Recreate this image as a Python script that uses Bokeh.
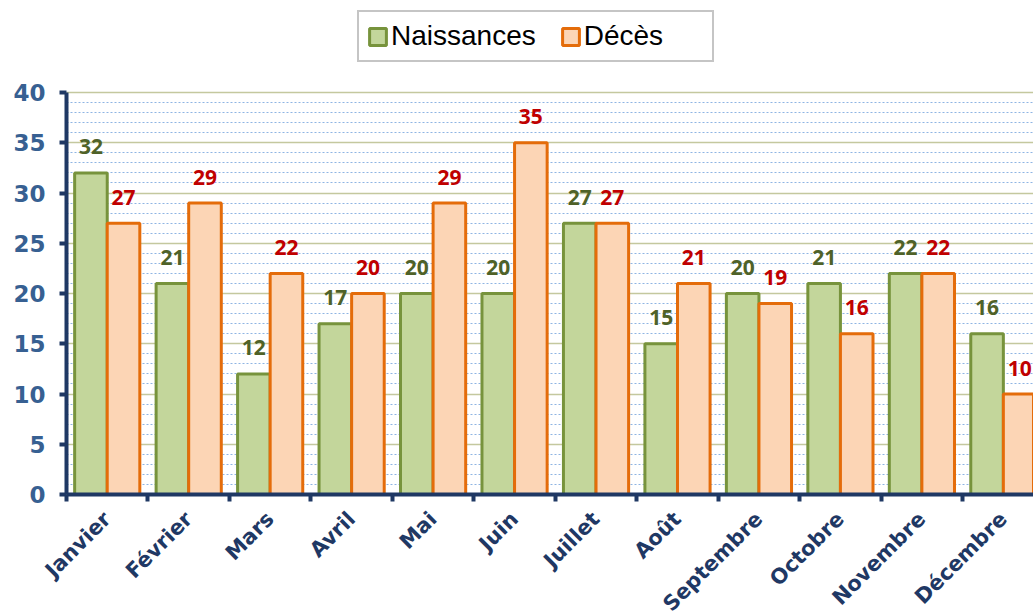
import numpy as np
from bokeh.plotting import figure
from bokeh.models import (ColumnDataSource, FixedTicker, Range1d, Legend, LegendItem,
                          LabelSet, Grid, SingleIntervalTicker)
from bokeh.core.properties import value
from bokeh.transform import dodge
from bokeh.embed import file_html
from bokeh.resources import INLINE
from math import pi

months = ["Janvier", "Février", "Mars", "Avril", "Mai", "Juin", "Juillet",
          "Août", "Septembre", "Octobre", "Novembre", "Décembre"]
naissances = [32, 21, 12, 17, 20, 20, 27, 15, 20, 21, 22, 16]
deces = [27, 29, 22, 20, 29, 35, 27, 21, 19, 16, 22, 10]
y_ticks = [0, 5, 10, 15, 20, 25, 30, 35, 40]

xc = list(np.arange(len(months)) + 0.5)
src = ColumnDataSource(dict(x=xc, n=naissances, d=deces,
                            nl=[str(v) for v in naissances],
                            dl=[str(v) for v in deces]))

p = figure(frame_width=967, frame_height=486, output_backend="svg", toolbar_location=None,
           x_range=Range1d(0, 11.87), y_range=Range1d(0, 48.36),
           min_border_left=66, min_border_right=0, min_border_top=8,
           min_border_bottom=10)
p.outline_line_color = None
p.background_fill_color = "white"

# grids
p.xgrid.visible = False
p.ygrid.visible = False
minor = Grid(dimension=1, ticker=SingleIntervalTicker(interval=1), bounds=(0, 40),
             grid_line_color="#8EB4E3", grid_line_dash="2 2", grid_line_width=1)
major = Grid(dimension=1, ticker=SingleIntervalTicker(interval=5), bounds=(0, 40),
             grid_line_color="#C4C89E", grid_line_width=1.5)
p.add_layout(minor)
p.add_layout(major)

g = p.vbar(x=dodge("x", -0.2, range=p.x_range), top="n", width=0.4, source=src,
           fill_color="#C3D69B", line_color="#77933C", line_width=3)
o = p.vbar(x=dodge("x", 0.2, range=p.x_range), top="d", width=0.4, source=src,
           fill_color="#FCD5B5", line_color="#E46C0A", line_width=3)

lab_g = LabelSet(x=dodge("x", -0.2, range=p.x_range), y="n", text="nl", source=src,
                 text_align="center", text_baseline="middle", y_offset=26,
                 text_font=value("Open Sans"), text_font_style="bold",
                 text_font_size="21px", text_color="#4F6228")
lab_o = LabelSet(x=dodge("x", 0.2, range=p.x_range), y="d", text="dl", source=src,
                 text_align="center", text_baseline="middle", y_offset=26,
                 text_font=value("Open Sans"), text_font_style="bold",
                 text_font_size="21px", text_color="#C00000")
p.add_layout(lab_g)
p.add_layout(lab_o)

# axes
ax = p.xaxis[0]
ax.ticker = FixedTicker(ticks=xc, minor_ticks=list(np.arange(len(months) + 1)))
ax.major_label_overrides = {float(x): m for x, m in zip(xc, months)}
ax.major_tick_out = 0
ax.major_tick_in = 0
ax.minor_tick_out = 7
ax.minor_tick_in = 0
ax.minor_tick_line_color = "#1F3864"
ax.minor_tick_line_width = 4
ax.axis_line_color = "#1F3864"
ax.axis_line_width = 4
ax.major_label_orientation = pi / 4
ax.major_label_text_font = "DejaVu Sans"
ax.major_label_text_font_style = "bold"
ax.major_label_text_font_size = "21px"
ax.major_label_text_color = "#1F3864"
ax.major_label_standoff = 14

ay = p.yaxis[0]
ay.bounds = (0, 40)
ay.ticker = FixedTicker(ticks=y_ticks)
ay.minor_tick_line_color = None
ay.major_tick_out = 7
ay.major_tick_in = 0
ay.major_tick_line_color = "#1F3864"
ay.major_tick_line_width = 4
ay.axis_line_color = "#1F3864"
ay.axis_line_width = 4
ay.major_label_text_font = "DejaVu Sans"
ay.major_label_text_font_style = "bold"
ay.major_label_text_font_size = "23px"
ay.major_label_text_color = "#376092"
ay.major_label_standoff = 14

legend = Legend(items=[LegendItem(label="Naissances", renderers=[g]),
                       LegendItem(label="Décès", renderers=[o])],
                orientation="horizontal", location=(291, 432),
                label_text_font="Liberation Sans", label_text_font_size="28px",
                label_text_color="black", glyph_width=21, glyph_height=21,
                border_line_color="#8C8C8C", border_line_width=2,
                padding=8, spacing=24, label_standoff=3, margin=0,
                label_width=120,
                background_fill_color="white")
p.add_layout(legend, "center")

open("out.html", "w").write(file_html(p, INLINE))
